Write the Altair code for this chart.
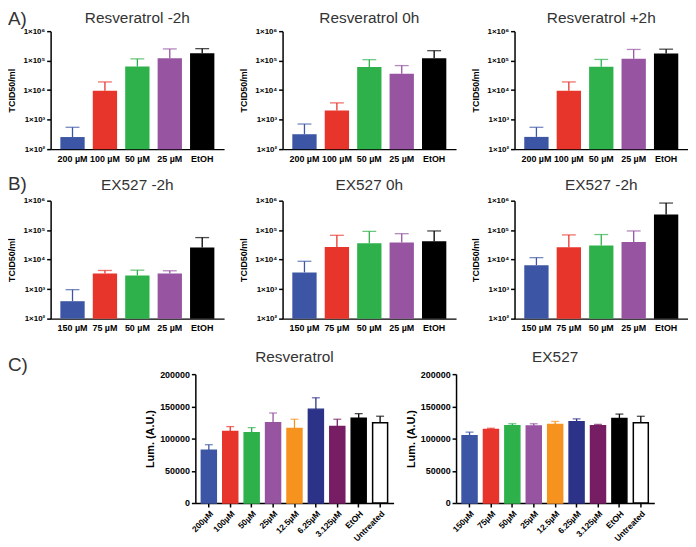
import altair as alt
import pandas as pd

FONT = "Liberation Sans"
TITLE_COLOR = "#333333"

# ---------------- data ----------------
res_cats = ["200 µM", "100 µM", "50 µM", "25 µM", "EtOH"]
ex_cats = ["150 µM", "75 µM", "50 µM", "25 µM", "EtOH"]
five_colors = ["#3c56a5", "#e8352b", "#2eb14b", "#9654a1", "#000000"]

res_m2_val = [257, 9500, 63000, 120000, 180000]
res_m2_hi = [550, 19000, 115000, 250000, 255000]
res_0_val = [320, 2050, 61000, 36000, 120000]
res_0_hi = [710, 3700, 108000, 68000, 218000]
res_p2_val = [260, 9500, 62000, 115000, 175000]
res_p2_hi = [550, 19000, 110000, 240000, 245000]

ex_m2_val = [390, 3400, 2900, 3400, 26000]
ex_m2_hi = [960, 4300, 4400, 4200, 56000]
ex_0_val = [3700, 27000, 36000, 38000, 42000]
ex_0_hi = [8800, 67000, 91000, 76000, 94000]
ex_m2b_val = [6500, 26500, 30000, 40000, 340000]
ex_m2b_hi = [11700, 69000, 71000, 94000, 830000]

c_res_cats = ["200µM", "100µM", "50µM", "25µM", "12.5µM", "6.25µM", "3.125µM", "EtOH", "Untreated"]
c_ex_cats = ["150µM", "75µM", "50µM", "25µM", "12.5µM", "6.25µM", "3.125µM", "EtOH", "Untreated"]
nine_fill = ["#3c56a5", "#e8352b", "#2eb14b", "#9654a1", "#f6921e", "#2b3287", "#761d63", "#000000", "#ffffff"]
nine_line = ["#3c56a5", "#e8352b", "#2eb14b", "#9654a1", "#f6921e", "#2b3287", "#761d63", "#000000", "#000000"]

c_res_val = [82000, 111000, 109000, 124600, 115600, 145700, 118600, 131700, 124600]
c_res_hi = [90500, 118600, 117000, 139700, 130000, 163300, 130000, 138700, 134700]
c_ex_val = [104500, 114000, 120000, 119600, 122000, 126000, 120000, 131000, 124600]
c_ex_hi = [110000, 116000, 123000, 123000, 126600, 130600, 122000, 138000, 134600]

LOG_TICKS = [100, 1000, 10000, 100000, 1000000]
LIN_TICKS = [0, 50000, 100000, 150000, 200000]

log_label_expr = (
    "datum.value == 100 ? '1×10²' : datum.value == 1000 ? '1×10³' : "
    "datum.value == 10000 ? '1×10⁴' : datum.value == 100000 ? '1×10⁵' : '1×10⁶'"
)

LW, LH = 175, 119      # log panels plot size
CW, CH = 200, 130      # luminescence panels plot size


def text_layer(txt, x, y, size, align="center", baseline="alphabetic", opacity=1):
    return alt.Chart(pd.DataFrame({"t": [txt]})).mark_text(
        align=align, baseline=baseline, font=FONT, fontSize=size, color=TITLE_COLOR,
        opacity=opacity
    ).encode(x=alt.value(x), y=alt.value(y), text="t:N")


def log_panel(title, cats, vals, his, title_y, label=None, label_y=-8):
    df = pd.DataFrame({"cat": cats, "val": vals, "hi": his, "col": five_colors})
    xax = alt.Axis(labelAngle=0, labelFont=FONT, labelFontWeight="bold", labelFontSize=9,
                   labelColor="black", ticks=False, labelPadding=5, title=None)
    xs = alt.Scale(paddingInner=0.25, paddingOuter=0.3)
    yax = alt.Axis(values=LOG_TICKS, labelExpr=log_label_expr, title="TCID50/ml",
                   labelFont=FONT, labelFontWeight="bold", labelFontSize=8, labelColor="black",
                   titleFont=FONT, titleFontWeight="bold", titleFontSize=9, titleColor="black",
                   tickSize=4, labelPadding=2, titlePadding=6)
    ys = alt.Scale(type="log", domain=[100, 1000000])
    X = alt.X("cat:N", sort=cats, scale=xs, axis=xax)
    base = alt.Chart(df)
    bars = base.mark_bar().encode(
        x=X, y=alt.Y("val:Q", scale=ys, axis=yax), y2=alt.datum(100),
        color=alt.Color("col:N", scale=None))
    rule = base.mark_rule(strokeWidth=1.3).encode(
        x=X, y=alt.Y("val:Q", scale=ys, axis=yax), y2="hi:Q",
        color=alt.Color("col:N", scale=None))
    cap = base.mark_tick(thickness=1.3, size=14).encode(
        x=X, y=alt.Y("hi:Q", scale=ys, axis=yax),
        color=alt.Color("col:N", scale=None))
    layers = [bars, rule, cap, text_layer(title, LW / 2, title_y, 15.5)]
    if label:
        layers.append(text_layer(label, -43, label_y, 19, align="left"))
    return alt.layer(*layers).properties(width=LW, height=LH)


def lin_panel(title, cats, vals, his):
    df = pd.DataFrame({"cat": cats, "val": vals, "hi": his, "fill": nine_fill, "line": nine_line})
    xax = alt.Axis(labelAngle=-45, labelFont=FONT, labelFontWeight="bold", labelFontSize=8.5,
                   labelColor="black", tickSize=4, labelPadding=2, title=None)
    xs = alt.Scale(paddingInner=0.3, paddingOuter=0.28)
    yax = alt.Axis(values=LIN_TICKS, format="d", title="Lum. (A.U.)",
                   labelFont=FONT, labelFontWeight="bold", labelFontSize=9, labelColor="black",
                   titleFont=FONT, titleFontWeight="bold", titleFontSize=11, titleColor="black",
                   tickSize=4, labelPadding=2, titlePadding=4)
    ys = alt.Scale(domain=[0, 200000])
    X = alt.X("cat:N", sort=cats, scale=xs, axis=xax)
    base = alt.Chart(df)
    bars = base.mark_bar(strokeWidth=1.5).encode(
        x=X, y=alt.Y("val:Q", scale=ys, axis=yax),
        color=alt.Color("fill:N", scale=None),
        stroke=alt.Stroke("line:N", scale=None))
    rule = base.mark_rule(strokeWidth=1.3).encode(
        x=X, y=alt.Y("val:Q", scale=ys, axis=yax), y2="hi:Q",
        color=alt.Color("line:N", scale=None))
    cap = base.mark_tick(thickness=1.3, size=8).encode(
        x=X, y=alt.Y("hi:Q", scale=ys, axis=yax),
        color=alt.Color("line:N", scale=None))
    layers = [bars, rule, cap, text_layer(title, CW / 2, -12, 15.5)]
    return alt.layer(*layers).properties(width=CW, height=CH)


# left spacer of the third row: carries the "C)" label and an invisible
# marker that reserves room above the row
spacerC = alt.layer(
    text_layer("C)", -43, -3, 19, align="left"),
    text_layer("C)", 0, -30, 10, align="left", baseline="top", opacity=0),
).properties(width=83, height=CH)

rowA = alt.hconcat(
    log_panel("Resveratrol -2h", res_cats, res_m2_val, res_m2_hi, -8, "A)", -6),
    log_panel("Resveratrol 0h", res_cats, res_0_val, res_0_hi, -8),
    log_panel("Resveratrol +2h", res_cats, res_p2_val, res_p2_hi, -8),
    spacing=16,
)
rowB = alt.hconcat(
    log_panel("EX527 -2h", ex_cats, ex_m2_val, ex_m2_hi, -11, "B)", -11),
    log_panel("EX527 0h", ex_cats, ex_0_val, ex_0_hi, -11),
    log_panel("EX527 -2h", ex_cats, ex_m2b_val, ex_m2b_hi, -11),
    spacing=16,
)
rowC = alt.hconcat(
    spacerC,
    lin_panel("Resveratrol", c_res_cats, c_res_val, c_res_hi),
    lin_panel("EX527", c_ex_cats, c_ex_val, c_ex_hi),
    spacing=11,
)

chart = alt.vconcat(rowA, rowB, rowC, spacing=12).properties(
    padding={"left": 0, "top": 0, "right": 0, "bottom": 0}
).configure_view(stroke=None).configure_axis(
    grid=False, domainColor="black", domainWidth=1.5, tickColor="black", tickWidth=1.5
)

chart.save("out.html", embed_options={"renderer": "svg", "actions": False})
